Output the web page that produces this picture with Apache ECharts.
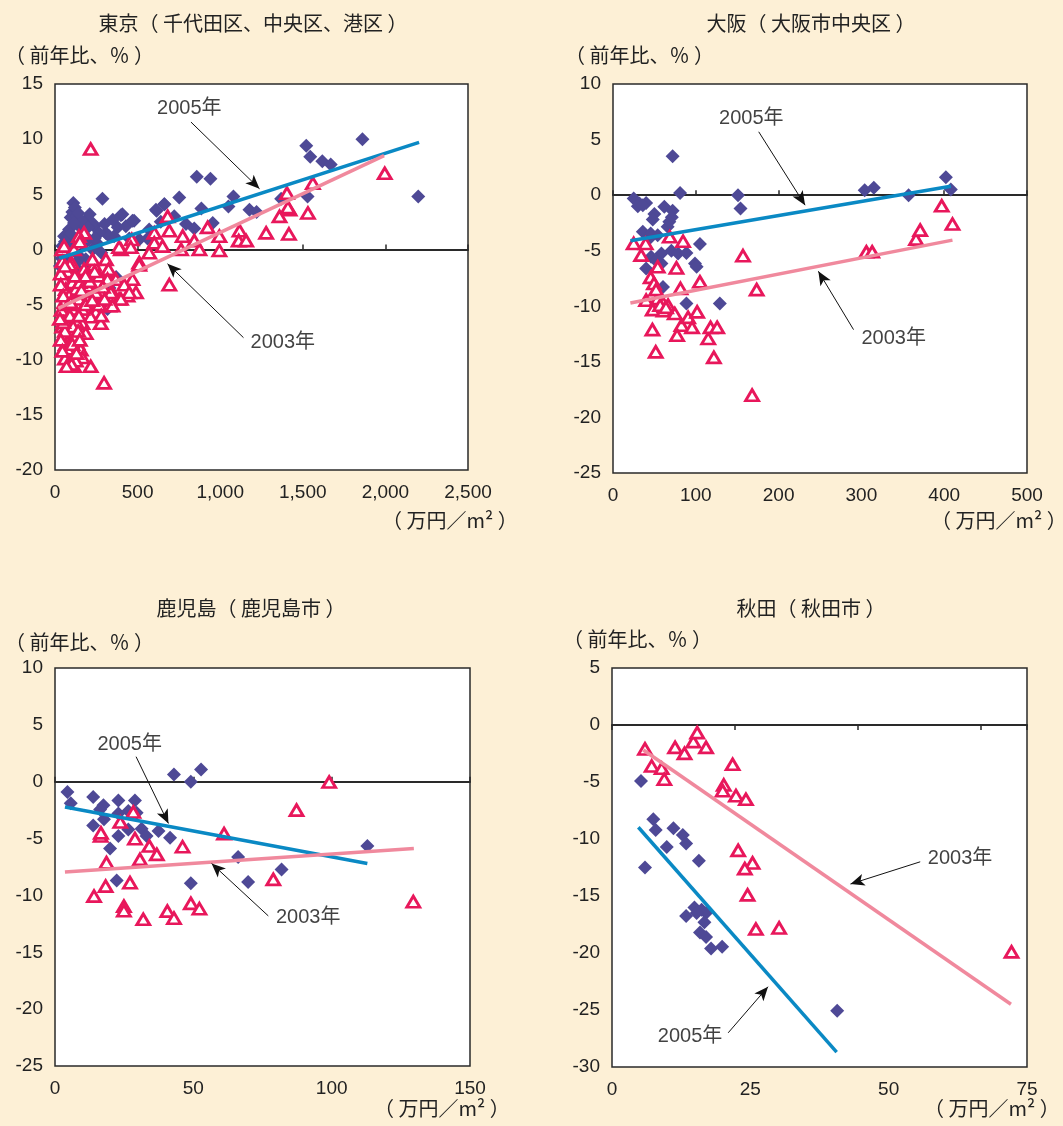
<!DOCTYPE html>
<html><head><meta charset="utf-8">
<script src="https://cdn.jsdelivr.net/npm/echarts@6/dist/echarts.min.js"></script>
<style>html,body{margin:0;padding:0;background:#fdf0d6;}#c{width:1063px;height:1126px;}</style>
</head><body><div id="c"></div>
<script>
// ---------- data ----------
const titles = ['東京（ 千代田区、中央区、港区 ）', '大阪（ 大阪市中央区 ）', '鹿児島（ 鹿児島市 ）', '秋田（ 秋田市 ）'];
const yName = '（ 前年比、％ ）';
const xUnit = '（ 万円／m² ）';
const year2005 = '2005年';
const year2003 = '2003年';

const tokyo2005 = [[1861,10.0],[1521,9.4],[1545,8.4],[1618,8.0],[1669,7.7],[2199,4.8],[858,6.6],[941,6.4],[1529,4.8],[1369,4.6],[1080,4.8],[1050,3.9],[1177,3.6],[1220,3.4],[886,3.7],[752,4.7],[663,4.1],[615,3.5],[793,2.3],[843,1.9],[955,2.4],[722,3.0],[287,4.6],[111,4.2],[105,3.4],[399,3.1],[479,2.6],[429,2.1],[186,2.7],[146,2.1],[237,2.1],[85,1.8],[308,1.5],[358,1.2],[570,1.8],[510,0.9],[44,0.3],[126,0.6],[206,0.9],[318,-5.4],[227,2.4],[267,1.5],[328,1.2],[55,1.2],[156,0.9],[44,-0.3],[146,-0.6],[105,-1.5],[186,-0.9],[227,0],[85,-2.4],[408,3.2],[469,2.6],[661,4.1],[611,3.6],[30,-1.5],[60,-2.5],[90,-3.5],[150,-2.0],[200,-1.2],[120,-4.0],[250,-4.5],[330,-3.5],[370,-2.5],[70,1.0],[175,1.8],[260,0.5],[95,2.9],[130,3.0],[160,1.3],[40,-0.8],[280,-0.3],[560,1.0],[640,2.5],[380,2.0],[450,1.0],[120,3.8],[140,3.3],[165,2.5],[200,2.0],[95,1.4],[115,2.4],[60,0.7],[240,1.0],[300,2.3],[350,2.7],[210,3.2],[75,-1.0],[130,-1.2],[170,0.4],[100,0.2]];
const tokyo2003 = [[216,9.1],[1996,6.9],[1561,6.0],[1404,5.1],[1420,3.6],[1410,3.8],[1359,3.0],[1531,3.3],[1278,1.5],[1416,1.4],[1117,1.7],[1112,0.8],[1157,0.8],[995,1.2],[995,-0.1],[924,2.0],[874,0],[843,0.8],[773,1.2],[763,0],[682,3.0],[692,1.7],[692,-3.2],[601,1.5],[601,0.6],[570,-0.3],[651,0.3],[510,-1.2],[465,0.9],[399,0],[469,-2.7],[490,-3.9],[439,-4.2],[388,-4.5],[308,-0.9],[318,-2.0],[237,-1.4],[176,1.5],[65,0],[297,-12.1],[115,-10.6],[216,-10.6],[277,-6.7],[206,-5.4],[247,-5.7],[328,-5.1],[348,-3.9],[368,-2.7],[388,0.2],[459,0.2],[324,-1.8],[510,-1.4],[419,-3.2],[449,-3.9],[338,-3.9],[399,-4.5],[348,-5.1],[267,-5.0],[216,-6.1],[166,-6.7],[186,-7.6],[135,-8.5],[156,-9.1],[115,-9.7],[44,0],[44,-1.1],[75,-2.0],[55,-2.7],[105,-3.0],[65,-3.6],[126,-3.6],[85,-4.2],[146,-4.5],[55,-4.8],[105,-5.4],[166,-5.4],[65,-6.1],[126,-6.5],[44,-7.0],[95,-7.3],[55,-7.9],[115,-8.0],[65,-8.6],[85,-9.4],[166,-9.8],[126,-10.1],[55,0.3],[115,0],[227,-0.9],[176,-1.8],[267,-2.4],[196,-3.3],[318,-2.7],[247,-3.9],[145,1.2],[150,0.7],[40,-5.5],[75,-6.8],[95,-8.8],[35,-2.2],[100,-1.2],[150,-3.0],[200,-4.6],[240,-2.0],[280,-6.0],[60,-9.9],[100,-10.4],[35,-3.2],[50,-4.2],[80,-5.0],[90,-6.0],[110,-7.0],[140,-7.4],[60,-7.4],[35,-8.2],[75,-9.0],[105,-8.6],[145,-6.0],[185,-5.0],[225,-4.6],[160,-3.7],[120,-2.4],[90,-1.4],[60,-1.5],[210,-2.9],[290,-3.4],[300,-4.5],[45,-9.2],[130,-9.4],[70,-10.6],[50,-6.6],[95,-4.8],[185,-2.4],[30,-6.3],[150,-8.2]];
const osaka2005 = [[72,3.5],[81,0.2],[151,0],[154,-1.2],[304,0.45],[315,0.66],[357,0],[402,1.6],[408,0.5],[25,-0.3],[32,-0.75],[40,-0.7],[62,-1.05],[72,-1.4],[71,-2.0],[50,-1.7],[48,-2.2],[66,-2.85],[36,-3.3],[45.5,-3.45],[54,-3.6],[105,-4.4],[70.5,-5.0],[78.6,-5.25],[88.7,-5.2],[58.5,-5.25],[46,-5.55],[58.5,-6.15],[40,-6.6],[99,-6.15],[101,-6.45],[60.4,-8.26],[88.7,-9.76],[129,-9.76],[30,-1.0],[36,-0.9],[44,-3.9],[52,-5.9],[68,-2.4]];
const osaka2003 = [[25,-4.35],[34,-5.4],[39.5,-4.35],[68.5,-3.75],[84.6,-4.15],[76.6,-6.55],[54,-6.45],[45.5,-7.4],[49.5,-7.95],[105,-7.8],[81.5,-8.4],[173.5,-8.5],[157,-5.45],[40,-9.45],[54,-9.3],[60.4,-9.7],[66.5,-9.9],[48,-10.3],[61,-10.4],[74.6,-10.65],[82.7,-11.7],[90.7,-11.0],[101.6,-10.5],[95.5,-11.9],[77.4,-12.6],[47.6,-12.1],[115,-12.9],[117.8,-11.9],[125.8,-11.9],[51.6,-14.1],[121.8,-14.6],[168,-18.0],[306,-5.1],[313,-5.1],[366,-3.96],[371,-3.15],[397,-0.96],[410,-2.6],[57,-9.9],[64,-10.1],[52,-8.5]];
const kago2005 = [[4.5,-0.91],[5.7,-1.9],[13.8,-1.35],[17.5,-2.06],[22.9,-1.65],[28.9,-1.65],[16.3,-2.44],[22.9,-2.79],[26.5,-2.58],[29.5,-2.73],[17.7,-3.3],[13.8,-3.85],[26.5,-4.2],[31.3,-4.13],[33.1,-4.78],[22.9,-4.78],[37.4,-4.34],[41.6,-4.93],[19.9,-5.87],[43,0.64],[49.1,0],[52.8,1.08],[66.2,-6.63],[49.1,-8.94],[69.8,-8.83],[81.9,-7.71],[22.3,-8.68],[112.9,-5.66]];
const kago2003 = [[28.3,-2.67],[23.6,-3.55],[16.5,-4.78],[16.6,-4.5],[28.9,-5.01],[34.1,-5.66],[36.8,-6.39],[30.7,-6.83],[18.6,-7.12],[46.1,-5.72],[61.1,-4.57],[87.3,-2.5],[99.1,-0.03],[78.9,-8.59],[129.5,-10.55],[27.1,-8.88],[18.3,-9.18],[14.1,-10.06],[24.9,-10.94],[24.9,-11.35],[31.9,-12.1],[40.6,-11.38],[43,-12.0],[49.1,-10.7],[52.2,-11.17]];
const akita2005 = [[5.24,-4.91],[5.96,-12.5],[7.47,-8.27],[7.9,-9.2],[11.1,-9.06],[12.8,-9.65],[13.4,-10.4],[9.9,-10.7],[15.7,-11.9],[14.9,-16.0],[16.2,-16.2],[17,-16.5],[13.4,-16.75],[15.3,-16.5],[16.7,-17.3],[15.9,-18.2],[17,-18.6],[17.9,-19.6],[19.9,-19.45],[40.7,-25.06]];
const akita2003 = [[5.96,-2.1],[7.17,-3.6],[8.98,-3.8],[9.45,-4.76],[11.4,-1.96],[13.1,-2.49],[14.7,-1.46],[15.4,-0.67],[17,-1.96],[21.8,-3.45],[20.2,-5.26],[20,-5.76],[22.4,-6.2],[24.2,-6.52],[22.8,-11.0],[25.4,-12.1],[24,-12.6],[24.5,-14.9],[26,-17.9],[30.2,-17.8],[72.2,-19.9]];

// regression lines (end points)
const tokyoLine2005 = [[26,-0.8],[2204,9.7]];
const tokyoLine2003 = [[20,-5.35],[1992,8.5]];
const osakaLine2005 = [[21,-4.1],[408,0.8]];
const osakaLine2003 = [[21,-9.7],[410,-4.05]];
const kagoLine2005 = [[3.6,-2.23],[112.9,-7.19]];
const kagoLine2003 = [[3.6,-7.95],[129.7,-5.87]];
const akitaLine2005 = [[4.76,-8.97],[40.6,-28.7]];
const akitaLine2003 = [[5.66,-2.19],[72.1,-24.5]];

// axis ranges [min,max,interval]
const xRanges = [[0,2500,500],[0,500,100],[0,150,50],[0,75,25]];
const yRanges = [[-20,15,5],[-25,10,5],[-25,10,5],[-30,5,5]];

// annotation anchors in data coordinates: [textX,textY, fromX,fromY, toX,toY]
const notes2005 = [[813,12.8, 823,11.55, 1238,5.5],[167,6.9, 176,5.7, 232,-0.9],[27,3.28, 29.3,2.2, 41,-3.67],[14.1,-27.3, 21.0,-27.0, 28.2,-22.96]];
const notes2003 = [[1379,-8.47, 1141,-8.0, 681,-1.3],[339,-12.9, 290.5,-12.1, 248,-6.85],[91.5,-11.96, 77.1,-11.8, 56.6,-7.19],[62.9,-11.7, 55.7,-12.0, 43.1,-13.95]];

// ---------- chart ----------
const pts2005 = [tokyo2005, osaka2005, kago2005, akita2005];
const pts2003 = [tokyo2003, osaka2003, kago2003, akita2003];
const lines2005 = [tokyoLine2005, osakaLine2005, kagoLine2005, akitaLine2005];
const lines2003 = [tokyoLine2003, osakaLine2003, kagoLine2003, akitaLine2003];

const C_DIAMOND = '#4e4996', C_TRI = '#e8175b', C_BLUE = '#0a89c4', C_PINK = '#f0899d';
const FONT = '"Liberation Sans", Arial, sans-serif';
const JFONT = '"Noto Sans CJK JP", sans-serif';
const MIXFONT = '"Liberation Sans", "Noto Sans CJK JP", sans-serif';

const grids = [
  {left:55, top:84, width:413, height:386},
  {left:613, top:84, width:414, height:389},
  {left:55, top:668, width:415, height:398},
  {left:612, top:668, width:415, height:399}
];

const option = {
  backgroundColor:'#fdf0d6',
  animation:false,
  grid: grids.map(g => Object.assign({show:true, backgroundColor:'#fff', borderColor:'#2a2a2a', borderWidth:1.5}, g)),
  xAxis:[], yAxis:[], series:[],
  title: titles.map((t,i)=>({text:t, left:[248,806,246,806][i], top:[18,18,603,603][i], textAlign:'center', textVerticalAlign:'middle',
    textStyle:{fontFamily:JFONT, fontSize:20, fontWeight:'normal', color:'#222'}})),
  graphic:[]
};

const zeroTickMax = [2500, 500, 150, 84.3];
for (let i=0;i<4;i++){
  const [xmin,xmax,xint] = xRanges[i];
  const [ymin,ymax,yint] = yRanges[i];
  option.xAxis.push({gridIndex:i, type:'value', min:xmin, max:xmax, interval:xint, position:'bottom',
    axisLine:{show:false, onZero:false}, axisTick:{show:false}, splitLine:{show:false},
    axisLabel:{fontFamily:FONT, fontSize:19, color:'#222', margin:13,
      formatter:v=>v.toLocaleString('en-US')}});
  option.xAxis.push({gridIndex:i, type:'value', min:0, max:zeroTickMax[i], interval:xint, position:'bottom',
    axisLine:{show:true, onZero:true, lineStyle:{color:'#2a2a2a', width:2}},
    axisTick:{show:true, inside:i!==3, length:5, lineStyle:{color:'#2a2a2a', width:1.5}},
    axisLabel:{show:false}, splitLine:{show:false}});
  option.yAxis.push({gridIndex:i, type:'value', min:ymin, max:ymax, interval:yint,
    axisLine:{show:false}, axisTick:{show:false}, splitLine:{show:false},
    axisLabel:{fontFamily:FONT, fontSize:19, color:'#222', margin:12}});
  const xi = i*2;
  option.series.push({type:'scatter', xAxisIndex:xi, yAxisIndex:i, data:pts2005[i], symbol:'diamond', symbolSize:14,
    itemStyle:{color:C_DIAMOND, opacity:1}, z:2});
  option.series.push({type:'scatter', xAxisIndex:xi, yAxisIndex:i, data:pts2003[i], symbol:'triangle', symbolSize:[13,11],
    itemStyle:{color:'#fff', borderColor:C_TRI, borderWidth:2.8, opacity:1}, z:3});
  const n5 = notes2005[i], n3 = notes2003[i];
  const arrow = (n)=>({silent:true, symbol:['none','arrow'], symbolSize:[9,14], label:{show:false},
    lineStyle:{color:'#111', width:1, type:'solid'},
    data:[[{coord:[n[2],n[3]]},{coord:[n[4],n[5]]}]]});
  option.series.push({type:'line', xAxisIndex:xi, yAxisIndex:i, data:lines2005[i], symbol:'none',
    lineStyle:{color:C_BLUE, width:3.5}, z:4, markLine:arrow(n5)});
  option.series.push({type:'line', xAxisIndex:xi, yAxisIndex:i, data:lines2003[i], symbol:'none',
    lineStyle:{color:C_PINK, width:3.5}, z:4, markLine:arrow(n3)});
  option.series.push({type:'scatter', xAxisIndex:xi, yAxisIndex:i, symbol:'circle', symbolSize:1, z:5,
    itemStyle:{color:'rgba(0,0,0,0)'},
    data:[[n5[0],n5[1],year2005],[n3[0],n3[1],year2003]],
    label:{show:true, position:'inside', formatter:p=>p.data[2], fontFamily:MIXFONT, fontSize:20, color:'#111'}});
}

const yNamePos = [[5,57],[565,57],[5,644],[563,641]];
const unitPos = [[448,522],[997,522],[440,1110],[990,1110]];
for (let i=0;i<4;i++){
  option.graphic.push({type:'text', left:yNamePos[i][0], top:yNamePos[i][1]-12,
    style:{text:yName, font:'20px '+JFONT, fill:'#222'}});
  option.graphic.push({type:'text', left:unitPos[i][0]-66, top:unitPos[i][1]-12,
    style:{text:xUnit, font:'20px '+JFONT, fill:'#222'}});
}

const chart = echarts.init(document.getElementById('c'), null, {renderer:'canvas'});
chart.setOption(option);
</script>
</body></html>
